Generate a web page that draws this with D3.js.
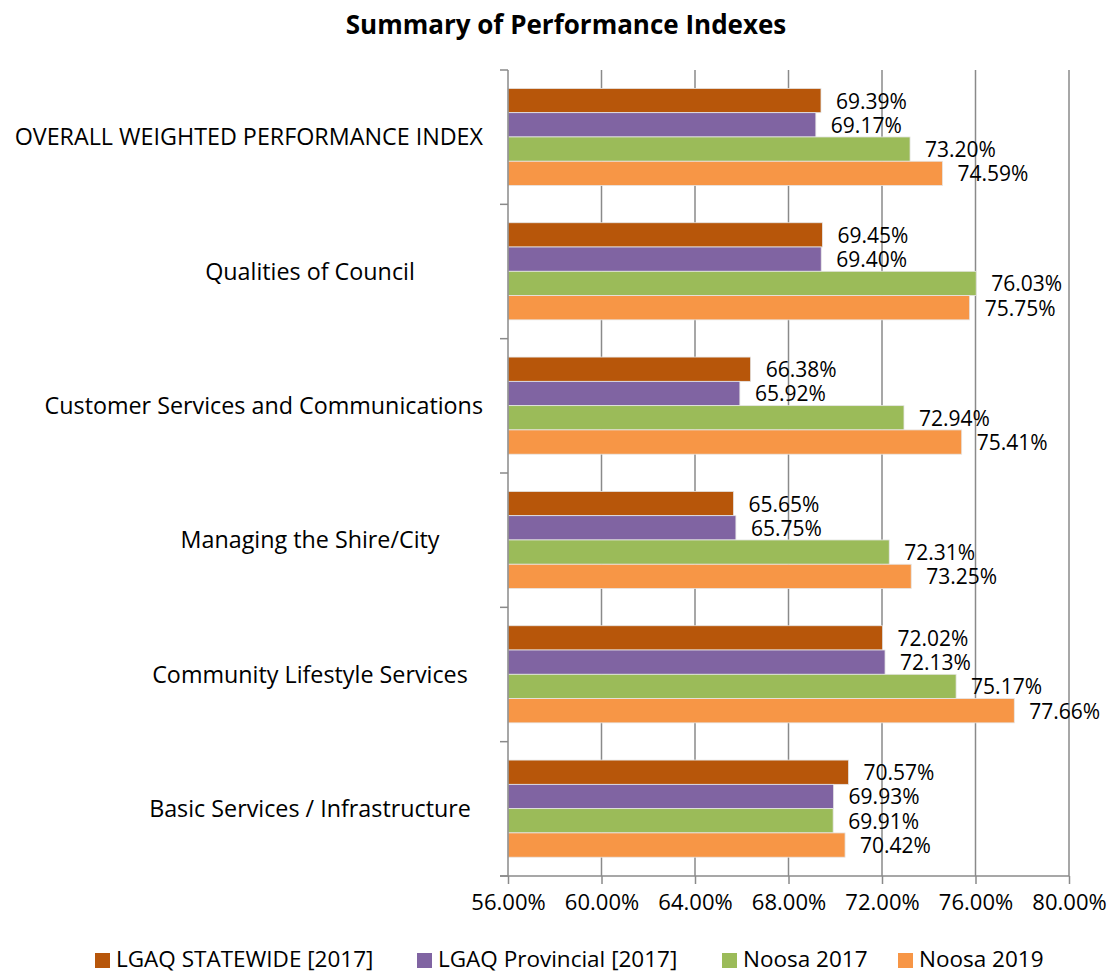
<!DOCTYPE html>
<html>
<head>
<meta charset="utf-8">
<script src="https://cdn.jsdelivr.net/npm/d3@7"></script>
<style>
  body { margin: 0; background: #fff; }
  text { font-family: "Open Sans", sans-serif; fill: #000; }
</style>
</head>
<body>
<script>
// Data
var categories = [
  "OVERALL WEIGHTED PERFORMANCE INDEX",
  "Qualities of Council",
  "Customer Services and Communications",
  "Managing the Shire/City",
  "Community Lifestyle Services",
  "Basic Services / Infrastructure"
];
var seriesNames = ["LGAQ STATEWIDE [2017]", "LGAQ Provincial [2017]", "Noosa 2017", "Noosa 2019"];
var statewide2017 = [69.39, 69.45, 66.38, 65.65, 72.02, 70.57];
var provincial2017 = [69.17, 69.40, 65.92, 65.75, 72.13, 69.93];
var noosa2017 = [73.20, 76.03, 72.94, 72.31, 75.17, 69.91];
var noosa2019 = [74.59, 75.75, 75.41, 73.25, 77.66, 70.42];
var xTicks = [56, 60, 64, 68, 72, 76, 80];
var colors = ["#b7560a", "#8064a2", "#9bbb59", "#f79646"];

var seriesValues = [statewide2017, provincial2017, noosa2017, noosa2019];

function chart() {
  var w = 1113, h = 976;
  var left = 508, right = 1069, top = 70, bottom = 876;

  var svg = d3.select("body").append("svg")
    .attr("width", w)
    .attr("height", h);

  var x = d3.scaleLinear().domain([56, 80]).range([left, right]);
  var y0 = d3.scaleBand().domain(categories).range([top, bottom]).padding(0);
  var bw = y0.bandwidth();
  var y1 = d3.scaleBand().domain(seriesNames).range([bw * 0.137, bw * 0.86]).padding(0);

  // title
  svg.append("text")
    .attr("x", 566).attr("y", 34)
    .attr("text-anchor", "middle")
    .style("font-weight", "bold")
    .style("font-size", "26px")
    .text("Summary of Performance Indexes");

  // gridlines
  svg.selectAll(".grid")
    .data(xTicks.slice(1))
    .enter().append("line")
    .attr("x1", function (d) { return x(d); })
    .attr("x2", function (d) { return x(d); })
    .attr("y1", top).attr("y2", bottom)
    .attr("stroke", "#8a8a8a")
    .attr("stroke-width", 1.5);

  // bars
  var groups = svg.selectAll(".cat")
    .data(categories)
    .enter().append("g")
    .attr("transform", function (d) { return "translate(0," + y0(d) + ")"; });

  groups.each(function (cat, ci) {
    var g = d3.select(this);
    var rows = seriesNames.map(function (s, si) {
      return { name: s, value: seriesValues[si][ci], color: colors[si] };
    });
    g.selectAll("rect")
      .data(rows)
      .enter().append("rect")
      .attr("x", x(56))
      .attr("y", function (d) { return y1(d.name); })
      .attr("width", function (d) { return x(d.value) - x(56); })
      .attr("height", y1.bandwidth())
      .attr("fill", function (d) { return d.color; })
      .attr("stroke", "#e6e6e6")
      .attr("stroke-width", 0.8);
    g.selectAll("text")
      .data(rows)
      .enter().append("text")
      .attr("x", function (d) { return x(d.value) + 15; })
      .attr("y", function (d) { return y1(d.name) + y1.bandwidth() / 2 + 8; })
      .style("font-size", "21px")
      .text(function (d) { return d.value.toFixed(2) + "%"; });
  });

  // y axis
  svg.append("line")
    .attr("x1", left).attr("x2", left)
    .attr("y1", top).attr("y2", bottom)
    .attr("stroke", "#8a8a8a").attr("stroke-width", 1.5);
  svg.selectAll(".ytick")
    .data(d3.range(categories.length + 1))
    .enter().append("line")
    .attr("x1", left - 8).attr("x2", left)
    .attr("y1", function (i) { return top + i * bw; })
    .attr("y2", function (i) { return top + i * bw; })
    .attr("stroke", "#8a8a8a").attr("stroke-width", 1.5);

  // category labels
  svg.selectAll(".catlabel")
    .data(categories)
    .enter().append("text")
    .attr("y", function (d) { return y0(d) + bw / 2 + 8; })
    .attr("text-anchor", "middle")
    .style("font-size", "23.3px")
    .text(function (d) { return d; })
    .attr("x", function () {
      var len = this.getComputedTextLength();
      var cx = 310;
      if (cx + len / 2 > 483) cx = 483 - len / 2;
      return cx;
    });

  // x axis
  var xAxis = d3.axisBottom(x)
    .tickValues(xTicks)
    .tickSize(8)
    .tickFormat(function (d) { return d.toFixed(2) + "%"; });
  var ax = svg.append("g")
    .attr("transform", "translate(0," + bottom + ")")
    .call(xAxis);
  ax.select(".domain").attr("stroke", "#8a8a8a").attr("stroke-width", 1.5)
    .attr("d", "M" + (left - 8) + ",0H" + right);
  ax.selectAll(".tick line").attr("stroke", "#8a8a8a").attr("stroke-width", 1.5);
  ax.selectAll(".tick text")
    .attr("y", 18)
    .style("font-family", "'Open Sans', sans-serif")
    .style("font-size", "22px")
    .attr("fill", "#000");

  // legend
  var legendX = [95, 417, 722, 898];
  var legend = svg.selectAll(".legend")
    .data(seriesNames)
    .enter().append("g")
    .attr("transform", function (d, i) { return "translate(" + legendX[i] + ",953)"; });
  legend.append("rect")
    .attr("width", 15).attr("height", 15)
    .attr("fill", function (d, i) { return colors[i]; });
  legend.append("text")
    .attr("x", 21).attr("y", 14)
    .style("font-size", "22.5px")
    .text(function (d) { return d; });
}

chart();
</script>
</body>
</html>
